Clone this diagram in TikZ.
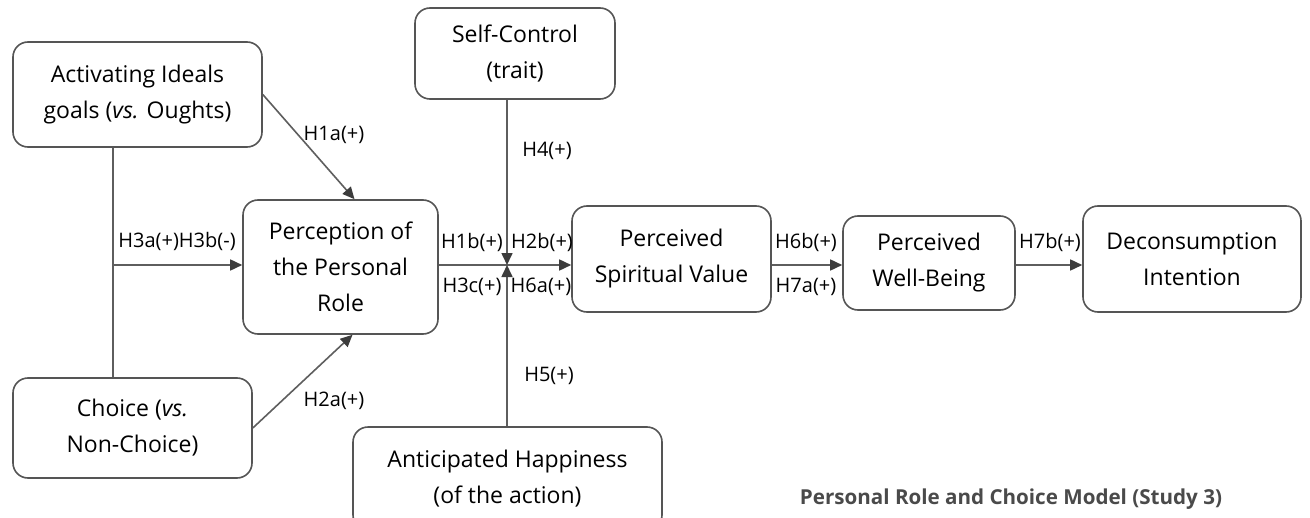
\documentclass[tikz,border=0pt]{standalone}
\usepackage{fontspec}
\setmainfont{Open Sans}
\usepackage{xcolor}
\usetikzlibrary{positioning,calc,arrows.meta}
\definecolor{boxgray}{HTML}{555555}
\definecolor{linegray}{HTML}{5E5E5E}
\definecolor{tipgray}{HTML}{3C3C3C}
\definecolor{capgray}{HTML}{4A4A4A}

\tikzset{
  model/.style={draw=boxgray, line width=0.8pt, rounded corners=7.5pt, align=center,
    inner sep=0pt, font=\fontsize{11.5}{18}\selectfont},
  hyp/.style={inner sep=0pt, font=\fontsize{10}{12}\selectfont},
  link/.style={draw=linegray, line width=0.8pt, -{Triangle[length=6pt,width=5.5pt,color=tipgray]}},
  plain/.style={draw=linegray, line width=0.8pt}
}

\begin{document}
\begin{tikzpicture}[x=0.5pt,y=-0.5pt]
        \useasboundingbox (0,0) rectangle (1310,518);
        \fill[white] (0,0) rectangle (1310,518);

        % Constructs
        \node[model, minimum width=124.5pt, minimum height=52.5pt] (act) at (137.5,94.5) {Activating Ideals\\goals (\textit{vs.} Oughts)};
        \node[model, minimum width=119.5pt, minimum height=50pt] (cho) at (132.5,428) {Choice (\textit{vs.}\\Non-Choice)};
        \node[model, minimum width=97.5pt, minimum height=67pt] (per) at (340.5,267) {Perception of\\the Personal\\Role};
        \node[model, minimum width=100pt, minimum height=45.5pt] (sc) at (515,53.5) {Self-Control\\(trait)};
        \node[model, minimum width=154.5pt, minimum height=51.5pt] (ant) at (507.5,478.5) {Anticipated Happiness\\(of the action)};
        \node[model, minimum width=99.5pt, minimum height=53pt] (spv) at (671.5,259) {Perceived\\Spiritual Value};
        \node[model, minimum width=86pt, minimum height=47pt] (wb) at (929,263) {Perceived\\Well-Being};
        \node[model, minimum width=109pt, minimum height=53pt] (dec) at (1192,259) {Deconsumption\\Intention};

        % Junctions
        \coordinate (v) at (113,265);
        \coordinate (j) at (507,265);

        % Left side: ideals and choice
        \draw[plain] (act.south -| v) -- (cho.north -| v);
        \draw[link] (v) -- (v -| per.west);
        \draw[link] (act.east) -- ([xshift=7pt]per.north);
        \draw[link] (cho.east) -- ([xshift=6pt]per.south);

        % Centre: role to spiritual value, moderators
        \draw[link] (per.east |- j) -- (j -| spv.west);
        \draw[link] (j |- sc.south) -- (j);
        \draw[link] (j |- ant.north) -- (j);

        % Right side
        \draw[link] (spv.east |- j) -- (wb.west |- j);
        \draw[link] (wb.east |- j) -- (dec.west |- j);

        % Hypotheses
        \node[hyp] (h3ab) at (177,241) {H3a(+)H3b(-)};
        \node[hyp] (h1a) at (334,135) {H1a(+)};
        \node[hyp] (h2a) at (334,401) {H2a(+)};
        \node[hyp] (h1b) at (472,242) {H1b(+)};
        \node[hyp] (h2b) at (542,242) {H2b(+)};
        \node[hyp] (h3c) at (472,287) {H3c(+)};
        \node[hyp] (h6a) at (541,287) {H6a(+)};
        \node[hyp] (h4) at (547,151) {H4(+)};
        \node[hyp] (h5) at (549,376) {H5(+)};
        \node[hyp] (h6b) at (806,242) {H6b(+)};
        \node[hyp] (h7a) at (806,287) {H7a(+)};
        \node[hyp] (h7b) at (1050,242) {H7b(+)};

        % Caption
        \node[inner sep=0pt, text=capgray, font=\bfseries\fontsize{10.3}{12}\selectfont] (cap) at (1011,499) {Personal Role and Choice Model (Study 3)};
    \end{tikzpicture}
\end{document}
